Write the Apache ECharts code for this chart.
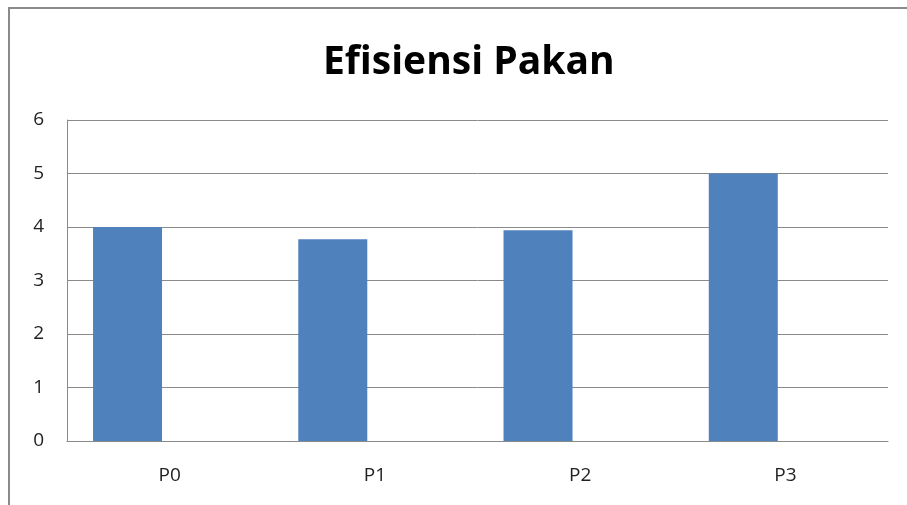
<!DOCTYPE html>
<html><head><meta charset="utf-8">
<script src="https://cdn.jsdelivr.net/npm/echarts@6/dist/echarts.min.js"></script>
<style>html,body{margin:0;padding:0;background:#fff}#c{width:907px;height:505px}</style>
</head><body><div id="c"></div>
<script>
const categories = ['P0', 'P1', 'P2', 'P3'];
const efisiensi = [4.0, 3.77, 3.94, 5.0];
const emptySeries = [null, null, null, null];
const yTicks = [0, 1, 2, 3, 4, 5, 6];

const chart = echarts.init(document.getElementById('c'), null, {renderer: 'canvas'});
chart.setOption({
  animation: false,
  backgroundColor: '#fff',
  title: {
    text: 'Efisiensi Pakan', left: 318, top: 38,
    textStyle: {fontFamily: 'Open Sans', fontWeight: 'bold', fontSize: 39, color: '#000'}
  },
  graphic: [{
    type: 'rect', shape: {x: 9, y: 8, width: 920, height: 520},
    style: {fill: 'none', stroke: '#8a8a8a', lineWidth: 2}, silent: true
  }],
  grid: {left: 67, right: 19, top: 120, bottom: 64},
  xAxis: {
    type: 'category', data: categories,
    axisLine: {show: true, lineStyle: {color: '#8a8a8a', width: 1}},
    axisTick: {show: false},
    axisLabel: {fontFamily: 'Open Sans', fontSize: 19, color: '#222', margin: 25}
  },
  yAxis: {
    type: 'value', min: yTicks[0], max: yTicks[yTicks.length - 1], interval: 1,
    axisLine: {show: true, lineStyle: {color: '#8a8a8a', width: 1}},
    axisTick: {show: false},
    splitLine: {lineStyle: {color: '#8a8a8a', width: 1}},
    axisLabel: {fontFamily: 'Open Sans', fontSize: 19, color: '#222', margin: 23}
  },
  series: [
    {type: 'bar', data: efisiensi, barWidth: 69, barGap: '22%', itemStyle: {color: '#4f81bd'}},
    {type: 'bar', data: emptySeries, barWidth: 69, itemStyle: {color: '#c0504d'}}
  ]
});
</script></body></html>
